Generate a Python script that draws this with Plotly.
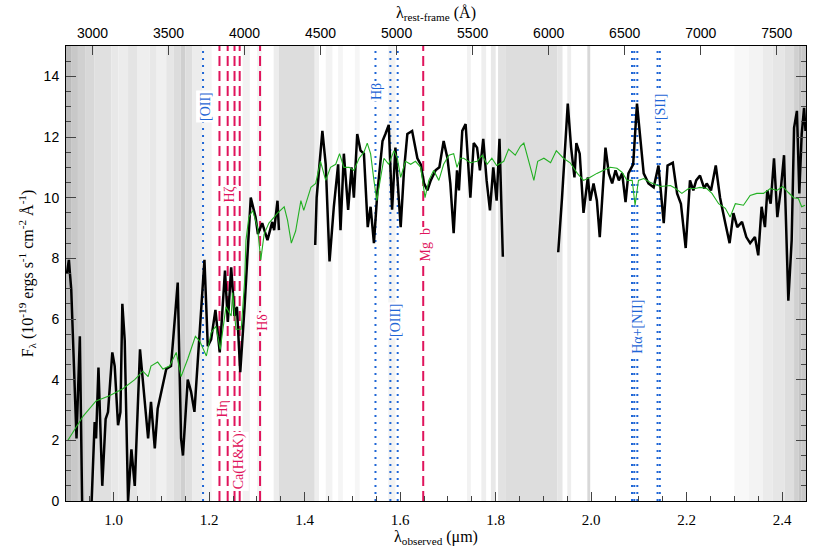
import plotly.graph_objects as go

# redshift linking observed (bottom, micron) and rest-frame (top, Angstrom) axes
z = 2.185

# observed spectrum (black), None = masked telluric gap
wl_obs = [0.902, 0.906, 0.911, 0.922, 0.929, 0.934, 0.953, 0.960, 0.963, 0.968,
          0.976, 0.983, 0.988, 0.997, 1.002, 1.009, 1.014, 1.018, 1.023, 1.030,
          1.037, 1.044, 1.055, 1.065, 1.072, 1.078, 1.086, 1.092, 1.103, 1.110,
          1.120, 1.134, 1.141, 1.145, 1.155, 1.162, 1.169, 1.180, 1.190, 1.197,
          1.204, 1.213, 1.222, 1.233, 1.239, 1.246, 1.253, 1.258, 1.265, 1.274,
          1.281, 1.287, 1.297, 1.302, 1.311, 1.322, 1.332, 1.336, 1.343, 1.346,
          None,
          1.422, 1.425, 1.437, 1.444, 1.452, 1.461, 1.470, 1.475, 1.482, 1.491,
          1.498, 1.503, 1.510, 1.517, 1.524, 1.532, 1.538, 1.545, 1.552, 1.563,
          1.569, 1.576, 1.583, 1.590, 1.601, 1.608, 1.615, 1.625, 1.636, 1.643,
          1.650, 1.657, 1.664, 1.674, 1.682, 1.691, 1.699, 1.705, 1.712, 1.719,
          1.723, 1.730, 1.737, 1.747, 1.754, 1.761, 1.767, 1.774, 1.781, 1.788,
          1.795, 1.802, 1.808, 1.815,
          None,
          1.931, 1.939, 1.951, 1.958, 1.965, 1.969, 1.976, 1.984, 1.993, 1.998,
          2.005, 2.012, 2.018, 2.025, 2.030, 2.037, 2.044, 2.051, 2.058, 2.065,
          2.072, 2.078, 2.088, 2.096, 2.103, 2.110, 2.120, 2.131, 2.141, 2.152,
          2.160, 2.171, 2.180, 2.188, 2.198, 2.207, 2.214, 2.220, 2.228, 2.237,
          2.242, 2.251, 2.261, 2.270, 2.281, 2.290, 2.298, 2.306, 2.316, 2.325,
          2.333, 2.343, 2.350, 2.357, 2.364, 2.369, 2.376, 2.383, 2.390, 2.397,
          2.404, 2.413, 2.420, 2.425, 2.431, 2.436, 2.441, 2.446, 2.449]
flux_obs = [7.5, 7.95, 6.97, 2.06, 5.43, -0.3, -0.3, 2.6, 2.06, 4.4,
            0.5, 2.7, 2.93, 4.9, 4.45, 2.5, 2.93, 6.5, 5.3, 0.0,
            1.7, 0.5, 5.0, 3.37, 2.06, 3.27, 1.73, 3.04, 3.9, 4.35,
            4.45, 7.2, 2.06, 1.5, 4.0, 3.6, 2.94, 5.56, 7.95, 5.1,
            5.33, 6.3, 4.9, 7.6, 5.9, 7.7, 6.1, 6.4, 4.25, 6.4,
            8.6, 10.0, 9.36, 8.8, 9.16, 8.6, 9.2, 8.93, 9.9, 8.93,
            None,
            8.44, 10.0, 12.2, 11.1, 7.9, 9.7, 11.1, 8.93, 11.45, 9.6,
            11.0, 10.0, 12.1, 11.55, 11.45, 9.03, 9.7, 8.5, 10.14, 11.87,
            12.1, 12.4, 9.6, 11.65, 9.03, 10.9, 12.1, 12.2, 11.3, 11.1,
            10.47, 10.24, 10.57, 10.9, 11.0, 11.87, 11.3, 10.47, 8.83, 10.9,
            10.24, 12.2, 12.43, 10.0, 11.8, 11.65, 10.9, 11.94, 10.57, 9.58,
            11.0, 9.9, 11.94, 8.05,
            None,
            8.2, 10.0, 13.1, 11.65, 10.67, 11.8, 11.45, 9.5, 10.67, 9.9,
            10.47, 9.9, 8.7, 10.57, 11.65, 10.8, 10.47, 10.9, 10.57, 10.8,
            9.85, 10.8, 11.1, 13.1, 12.0, 10.8, 10.47, 10.34, 11.06, 9.16,
            11.06, 11.15, 10.14, 9.8, 8.34, 10.57, 10.24, 10.57, 10.73, 10.3,
            10.47, 10.24, 11.06, 10.0, 9.16, 8.5, 9.49, 9.03, 9.2, 8.7,
            8.5, 8.7, 8.1, 9.7, 9.03, 10.24, 9.8, 11.3, 9.36, 10.24,
            11.4, 6.6, 8.6, 12.3, 12.86, 10.14, 12.1, 12.96, 12.2]

# best-fit template (green)
wl_tpl = [0.904, 0.936, 0.963, 0.991, 1.019, 1.044, 1.061, 1.072, 1.078, 1.092,
          1.103, 1.117, 1.131, 1.141, 1.155, 1.171, 1.180, 1.194, 1.204, 1.214,
          1.223, 1.235, 1.246, 1.249, 1.256, 1.267, 1.274, 1.277, 1.283, 1.291,
          1.301, 1.308, 1.315, 1.325, 1.336, 1.343, 1.357, 1.364, 1.372, 1.381,
          1.392, 1.398, 1.413, 1.423, 1.433, 1.444, 1.454, 1.465, 1.473, 1.482,
          1.493, 1.503, 1.514, 1.524, 1.531, 1.538, 1.545, 1.551, 1.558, 1.566,
          1.576, 1.587, 1.594, 1.601, 1.611, 1.622, 1.632, 1.643, 1.652, 1.660,
          1.670, 1.681, 1.691, 1.702, 1.712, 1.719, 1.726, 1.733, 1.747, 1.761,
          1.772, 1.782, 1.792, 1.802, 1.817, 1.827, 1.841, 1.852, 1.859, 1.869,
          1.880, 1.888, 1.901, 1.915, 1.927, 1.942, 1.956, 1.971, 1.984, 1.998,
          2.012, 2.026, 2.040, 2.054, 2.065, 2.075, 2.086, 2.092, 2.099, 2.110,
          2.124, 2.145, 2.166, 2.177, 2.190, 2.204, 2.218, 2.228, 2.242, 2.253,
          2.267, 2.281, 2.291, 2.302, 2.319, 2.333, 2.347, 2.361, 2.375, 2.389,
          2.401, 2.413, 2.424, 2.434, 2.441, 2.448]
flux_tpl = [2.0, 2.8, 3.3, 3.47, 3.7, 4.0, 4.28, 4.1, 4.45, 4.58,
            4.35, 4.45, 4.9, 4.1, 4.68, 5.43, 5.27, 4.78, 5.55, 5.76,
            5.0, 6.4, 6.1, 6.87, 5.66, 5.66, 7.2, 8.6, 9.36, 9.58,
            9.03, 7.95, 8.8, 9.16, 9.36, 9.49, 9.7, 9.26, 8.5, 8.9,
            9.9, 9.58, 10.34, 10.47, 11.2, 10.57, 11.0, 11.1, 11.45, 11.0,
            11.0, 10.9, 11.3, 11.5, 11.8, 11.45, 10.57, 9.9, 10.57, 11.3,
            11.1, 11.55, 11.3, 10.67, 11.2, 11.1, 11.2, 11.0, 10.0, 10.57,
            10.9, 10.57, 11.1, 11.4, 11.45, 11.0, 11.3, 11.3, 11.15, 11.2,
            11.4, 11.1, 11.3, 11.06, 11.2, 11.6, 11.4, 11.7, 11.8, 11.2,
            10.57, 11.2, 11.3, 11.15, 11.55, 11.3, 11.15, 10.8, 10.57, 10.67,
            10.8, 10.9, 11.0, 10.97, 10.83, 10.57, 10.57, 9.75, 10.57, 10.63,
            10.5, 10.37, 10.4, 10.3, 10.14, 10.3, 10.3, 10.34, 10.3, 10.14,
            9.8, 9.65, 9.36, 9.8, 9.75, 10.07, 10.14, 10.14, 10.3, 10.24,
            10.37, 10.17, 10.0, 9.97, 9.7, 9.75]

# atmospheric transmission shading (observed micron ranges, grey level)
band_lo = [0.900, 0.912, 0.925, 0.940, 0.960, 0.995, 1.010, 1.030, 1.050, 1.075,
           1.090, 1.110, 1.125, 1.140, 1.150, 1.165, 1.185, 1.270, 1.300, 1.335,
           1.346, 1.421, 1.444, 1.470, 1.505, 1.575, 1.740, 1.770, 1.790, 1.805,
           1.820, 1.929, 1.950, 1.992, 2.300, 2.330, 2.360, 2.380, 2.405, 2.425,
           2.435, 2.440]
band_hi = [0.912, 0.925, 0.940, 0.960, 0.995, 1.010, 1.030, 1.050, 1.075, 1.090,
           1.110, 1.125, 1.140, 1.150, 1.165, 1.185, 1.205, 1.285, 1.310, 1.346,
           1.421, 1.430, 1.458, 1.480, 1.515, 1.590, 1.748, 1.780, 1.800, 1.820,
           1.929, 1.940, 1.958, 1.998, 2.330, 2.360, 2.380, 2.405, 2.425, 2.435,
           2.440, 2.450]
band_grey = [188, 200, 208, 216, 224, 232, 236, 228, 238, 232,
             240, 230, 220, 207, 222, 236, 244, 242, 244, 237,
             221, 238, 243, 245, 246, 243, 242, 238, 232, 226,
             221, 230, 238, 216, 248, 243, 235, 230, 222, 208,
             196, 200]

# rest-frame line wavelengths (Angstrom)
emission_lines = [3727, 4861, 4959, 5007, 6548, 6563, 6583, 6716, 6731]
absorption_lines = [3835, 3889, 3934, 3968, 4102, 5175]

# labels: text, rest-frame x (A), flux y, kind
label_text = ["[OII]", "Hβ", "[OIII]", "Hα+[NII]", "[SII]",
              "Hη", "Hζ", "Ca(H&K)", "Hδ", "Mg  b"]
label_x = [3742, 4868, 4992, 6584, 6735, 3857, 3903, 3962, 4113, 5190]
label_y = [13.0, 13.5, 5.95, 5.76, 13.0, 3.04, 10.1, 1.3, 5.9, 8.44]
label_kind = ["em", "em", "em", "em", "em", "ab", "ab", "ab", "ab", "ab"]

BLUE = "#1f66d6"
RED = "#e0145c"
GREEN = "#22b022"

fig = go.Figure()

shapes = []
for lo, hi, g in zip(band_lo, band_hi, band_grey):
    shapes.append(dict(type="rect", xref="x", yref="paper", x0=lo, x1=hi, y0=0, y1=1,
                       fillcolor=f"rgb({g},{g},{g})", line=dict(width=0), layer="below"))
for w in emission_lines:
    shapes.append(dict(type="line", xref="x2", yref="paper", x0=w, x1=w, y0=0, y1=1,
                       line=dict(color=BLUE, width=2, dash="2px,5px"), layer="below"))
for w in absorption_lines:
    shapes.append(dict(type="line", xref="x2", yref="paper", x0=w, x1=w, y0=0, y1=1,
                       line=dict(color=RED, width=2, dash="10px,5px"), layer="below"))

fig.add_trace(go.Scatter(x=wl_obs, y=flux_obs, mode="lines", connectgaps=False,
                         line=dict(color="black", width=2.5), showlegend=False,
                         hoverinfo="skip"))
fig.add_trace(go.Scatter(x=wl_tpl, y=flux_tpl, mode="lines",
                         line=dict(color=GREEN, width=1.1), showlegend=False,
                         hoverinfo="skip"))
# carrier trace for the rest-frame axis
fig.add_trace(go.Scatter(x=[9000 / (1 + z), 24500 / (1 + z)], y=[None, None],
                         xaxis="x2", mode="lines", showlegend=False, hoverinfo="skip"))

annotations = []
for t, lx, ly, k in zip(label_text, label_x, label_y, label_kind):
    annotations.append(dict(text=t, x=lx, y=ly, xref="x2", yref="y", showarrow=False,
                            textangle=-90, bgcolor="white", borderpad=1,
                            font=dict(family="Liberation Serif", size=14,
                                      color=BLUE if k == "em" else RED)))

tick_font = dict(family="Liberation Sans", size=14, color="black")
title_font = dict(family="Liberation Serif", size=16, color="black")

fig.update_layout(
    width=830, height=553,
    margin=dict(l=66, r=24, t=44, b=48),
    paper_bgcolor="white", plot_bgcolor="white",
    shapes=shapes, annotations=annotations,
    xaxis=dict(range=[0.9, 2.45], tickvals=[1.0, 1.2, 1.4, 1.6, 1.8, 2.0, 2.2, 2.4],
               ticktext=["1.0", "1.2", "1.4", "1.6", "1.8", "2.0", "2.2", "2.4"],
               ticks="inside", ticklen=9, tickwidth=1, tickcolor="#444",
               ticklabelstandoff=5,
               minor=dict(dtick=0.05, tick0=0.9, ticks="inside", ticklen=5, tickcolor="#444"),
               showline=True, linecolor="black", linewidth=1, mirror=True,
               showgrid=False, zeroline=False,
               tickfont=dict(family="Liberation Serif", size=15, color="black"),
               title=dict(text="λ<sub>observed</sub> (μm)", standoff=2, font=title_font)),
    xaxis2=dict(overlaying="x", side="top", range=[9000 / (1 + z), 24500 / (1 + z)],
                tickvals=[3000, 3500, 4000, 4500, 5000, 5500, 6000, 6500, 7000, 7500],
                ticks="inside", ticklen=9, tickwidth=1, tickcolor="#444",
                ticklabelstandoff=4,
                showgrid=False, zeroline=False, showline=False,
                tickfont=tick_font,
                title=dict(text="λ<sub>rest-frame</sub> (Å)", standoff=2, font=title_font)),
    yaxis=dict(range=[0, 15], tickvals=[0, 2, 4, 6, 8, 10, 12, 14],
               ticks="inside", ticklen=10, tickwidth=1, tickcolor="#444",
               ticklabelstandoff=3,
               minor=dict(dtick=0.5, ticks="inside", ticklen=5, tickcolor="#444"),
               showline=True, linecolor="black", linewidth=1, mirror="ticks",
               showgrid=False, zeroline=False, tickfont=tick_font,
               title=dict(text="F<sub>λ</sub> (10<sup>-19</sup> ergs s<sup>-1</sup> cm<sup>-2</sup> Å<sup>-1</sup>)",
                          standoff=6, font=title_font)),
)

fig.write_html("out.html", config={"displayModeBar": False},
               post_script="document.body.style.margin='0';"
                           "document.documentElement.style.overflow='hidden';")
